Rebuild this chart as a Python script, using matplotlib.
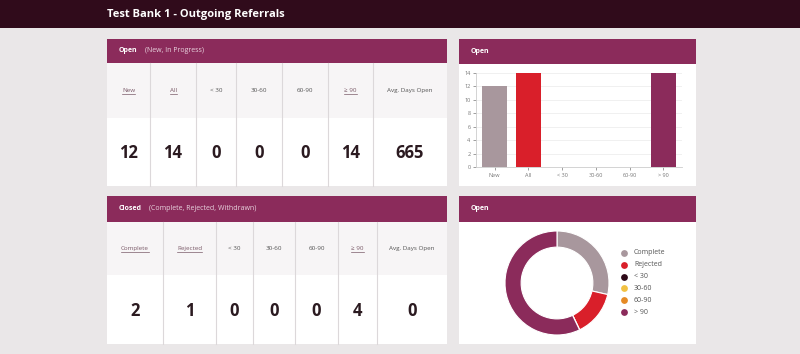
import matplotlib
matplotlib.use("Agg")
import matplotlib.pyplot as plt
from matplotlib.patches import Rectangle
import numpy as np

plt.rcParams['font.family'] = ['Open Sans', 'DejaVu Sans']

# data
title = "Test Bank 1 - Outgoing Referrals"
open_labels = ["New", "All", "< 30", "30-60", "60-90", "\u2265 90", "Avg. Days Open"]
open_values = [12, 14, 0, 0, 0, 14, 665]
open_links = [True, True, False, False, False, True, False]
closed_labels = ["Complete", "Rejected", "< 30", "30-60", "60-90", "\u2265 90", "Avg. Days Open"]
closed_values = [2, 1, 0, 0, 0, 4, 0]
closed_links = [True, True, False, False, False, True, False]

bar_cats = ["New", "All", "< 30", "30-60", "60-90", "> 90"]
bar_vals = [12, 14, 0, 0, 0, 14]
bar_cols = ["#a8979d", "#d91f2a", "#d91f2a", "#d91f2a", "#d91f2a", "#8b2b5b"]

pie_labels = ["Complete", "Rejected", "< 30", "30-60", "60-90", "> 90"]
pie_vals = [2, 1, 0, 0, 0, 4]
pie_cols = ["#a8979d", "#d91f2a", "#2e0a18", "#f2c142", "#e58a25", "#8b2b5b"]

W, H = 800, 354
BG = "#eae7e8"
DARK = "#300b1b"
PLUM = "#8b2b5b"

fig = plt.figure(figsize=(8, 3.54), dpi=100, facecolor=BG)
ax = fig.add_axes([0, 0, 1, 1])
ax.set_xlim(0, W)
ax.set_ylim(H, 0)
ax.axis('off')

# top band
ax.add_patch(Rectangle((0, 0), W, 28, color=DARK, lw=0))
ax.text(107, 15, title, color="white", fontsize=8, fontweight="bold", va="center")


def panel(x0, y0, x1, y1, hy, head, sub=None, subx=None):
    ax.add_patch(Rectangle((x0, y0), x1 - x0, y1 - y0, color="white", lw=0))
    ax.add_patch(Rectangle((x0, y0), x1 - x0, hy - y0, color=PLUM, lw=0))
    ax.text(x0 + 12, (y0 + hy) / 2, head, color="white", fontsize=5,
            fontweight="bold", va="center")
    if sub:
        ax.text(subx, (y0 + hy) / 2, sub, color="#e8d3de", fontsize=5, va="center")


underlines = []


def table(x0, x1, edges, hy, ry, y1, labels, values, links):
    ax.add_patch(Rectangle((x0, hy), x1 - x0, ry - hy, color="#f7f5f6", lw=0))
    for e in edges:
        ax.plot([e, e], [hy, y1], color="#dcd8da", lw=0.8)
    xs = [x0] + edges + [x1]
    for i, (lab, val, lk) in enumerate(zip(labels, values, links)):
        cx = (xs[i] + xs[i + 1]) / 2
        t = ax.text(cx, (hy + ry) / 2, lab, color="#7a5a68" if lk else "#555555",
                    fontsize=4.5, ha="center", va="center")
        if lk:
            underlines.append(t)
        ax.text(cx, (ry + y1) / 2 + 1, str(val), color="#2b1a20", fontsize=12,
                fontweight="bold", ha="center", va="center")


# top left
panel(107, 39, 447, 186, 63, "Open", "(New, In Progress)", 145)
table(107, 447, [150, 196, 236, 282, 328, 373], 63, 118, 186,
      open_labels, open_values, open_links)

# bottom left
panel(107, 196, 447, 344, 222, "Closed", "(Complete, Rejected, Withdrawn)", 149)
table(107, 447, [163, 216, 253, 295, 338, 377], 222, 275, 344,
      closed_labels, closed_values, closed_links)

# right panels
panel(459, 39, 696, 186, 64, "Open")
panel(459, 196, 696, 344, 222, "Open")

# underline links
fig.canvas.draw()
r = fig.canvas.get_renderer()
inv = ax.transData.inverted()
for t in underlines:
    bb = t.get_window_extent(r)
    (xa, ya), (xb, yb) = inv.transform([[bb.x0, bb.y0], [bb.x1, bb.y1]])
    ax.plot([xa, xb], [ya + 0.5, ya + 0.5], color="#7a5a68", lw=0.5)

# bar chart
bx0, bx1, by0, by1 = 476, 682, 73, 167
bax = fig.add_axes([bx0 / W, 1 - by1 / H, (bx1 - bx0) / W, (by1 - by0) / H])
xpos = np.arange(len(bar_cats))
bax.bar(xpos, bar_vals, width=0.72, color=bar_cols)
bax.set_xlim(-0.55, len(bar_cats) - 0.45)
bax.set_ylim(0, 14)
bax.set_yticks(range(0, 15, 2))
bax.set_xticks(xpos)
bax.set_xticklabels(bar_cats)
bax.tick_params(labelsize=4, colors="#777777", length=2, width=0.5, pad=2)
bax.grid(axis='y', color="#eeeeee", lw=0.6)
bax.set_axisbelow(True)
for s in ["top", "right"]:
    bax.spines[s].set_visible(False)
for s in ["left", "bottom"]:
    bax.spines[s].set_color("#cccccc")
    bax.spines[s].set_linewidth(0.6)

# donut
cx, cy, rr = 557, 283, 52
s = 2.2 * rr
dax = fig.add_axes([(cx - s / 2) / W, 1 - (cy + s / 2) / H, s / W, s / H])
dax.pie(pie_vals, colors=pie_cols, startangle=90, counterclock=False, radius=1,
        wedgeprops=dict(width=0.31, edgecolor="white", linewidth=0.8))
dax.set_xlim(-1.1, 1.1)
dax.set_ylim(-1.1, 1.1)
dax.set_aspect('equal')
dax.axis('off')

# legend
for i, (lab, c) in enumerate(zip(pie_labels, pie_cols)):
    yy = 253 + i * 11.8
    ax.scatter([624], [yy], s=24, color=c, lw=0)
    ax.text(634, yy, lab, fontsize=5, color="#555555", va="center")

fig.savefig("out.png", dpi=100, facecolor=BG)
